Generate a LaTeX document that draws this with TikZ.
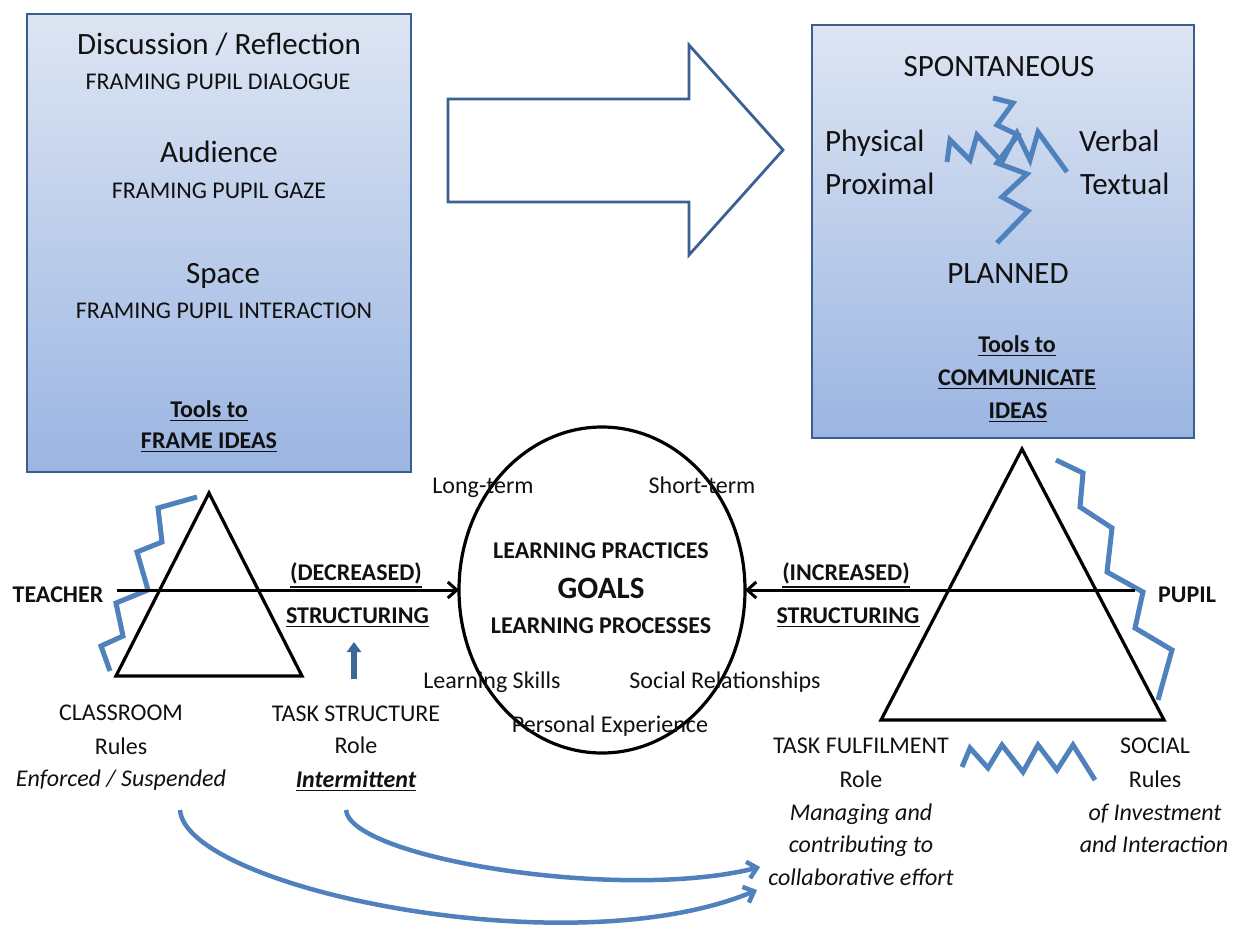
\documentclass[tikz,border=0pt]{standalone}
\usepackage{fontspec}
\setmainfont{Carlito}
\usetikzlibrary{arrows.meta,shapes.geometric}

\definecolor{zig}{HTML}{4F81BD}
\definecolor{panelline}{HTML}{3A5F8F}
\definecolor{paneltop}{HTML}{DDE5F3}
\definecolor{panelbot}{HTML}{9BB5E2}
\definecolor{bigarrow}{HTML}{3B6193}
\definecolor{uparrow}{HTML}{3E6797}
\definecolor{ink}{HTML}{111111}

% thick underline sitting just below the baseline
\newcommand\ulbox[1]{\vtop{\hbox{#1}\kern2.4pt\hrule height 1.9pt}}

\tikzset{
  txt/.style={font=\fontsize{24}{28}\selectfont, text=ink, anchor=base, inner sep=0pt, outer sep=0pt},
  txtb/.style={txt, font=\fontsize{24}{28}\selectfont\bfseries},
  txti/.style={txt, font=\fontsize{24}{28}\selectfont\itshape},
  txtbi/.style={txt, font=\fontsize{24}{28}\selectfont\bfseries\itshape},
  big/.style={txt, font=\fontsize{31}{36}\selectfont},
  bigb/.style={txt, font=\fontsize{31}{36}\selectfont\bfseries},
  panel/.style={draw=panelline, line width=2.8pt, top color=paneltop, bottom color=panelbot,
                inner sep=0pt, outer sep=0pt},
  zigline/.style={draw=zig, line width=5pt},
  tri/.style={draw=black, line width=3.2pt, line join=miter},
  conn/.style={draw=black, line width=3pt, -{Straight Barb[length=9pt,width=16pt]}},
  curvearrow/.style={draw=zig, line width=4.5pt, -{Straight Barb[length=9pt,width=17pt]}},
  upstyle/.style={draw=uparrow, line width=5.5pt, -{Triangle[length=10pt,width=14pt]}},
}

\begin{document}
\begin{tikzpicture}[x=1pt,y=-1pt]
\useasboundingbox (0,0) rectangle (1241,928);
\fill[white] (0,0) rectangle (1241,928);

% ---------- left panel: tools to frame ideas ----------
\node[panel, minimum width=384pt, minimum height=458pt] (framepanel) at (219,243) {};
\node[big] (discuss)  at (219,55)  {Discussion / Reflection};
\node[txt] (dialogue) at (218,90)  {FRAMING PUPIL DIALOGUE};
\node[big] (audience) at (219,163) {Audience};
\node[txt] (gaze)     at (219,198) {FRAMING PUPIL GAZE};
\node[big] (space)    at (223,283) {Space};
\node[txt] (interact) at (224,318) {FRAMING PUPIL INTERACTION};
\node[txtb] (toolsA)  at (209,417) {\ulbox{Tools to}};
\node[txtb] (frameid) at (209,448) {\ulbox{FRAME IDEAS}};

% ---------- block arrow between the panels ----------
\draw[draw=bigarrow, line width=2.8pt, fill=white, line join=miter]
  (448,99) -- (689,99) -- (689,45) -- (783,150) -- (689,255) -- (689,202) -- (448,202) -- cycle;

% ---------- right panel: tools to communicate ideas ----------
\node[panel, minimum width=382pt, minimum height=413pt] (commpanel) at (1003,231.5) {};
\node[big] (spont)    at (999,77)  {SPONTANEOUS};
\node[big, anchor=base west] (physical) at (825,152) {Physical};
\node[big, anchor=base west] (proximal) at (825,194) {Proximal};
\node[big, anchor=base west] (verbal)   at (1079,152) {Verbal};
\node[big, anchor=base west] (textual)  at (1080,194) {Textual};
\node[big] (planned)  at (1008,283) {PLANNED};
\node[txtb] (toolsB)  at (1017,352) {\ulbox{Tools to}};
\node[txtb] (commun)  at (1017,385) {\ulbox{COMMUNICATE}};
\node[txtb] (ideas)   at (1018,418) {\ulbox{IDEAS}};

\draw[zigline] (993,98) -- (1013,103) -- (997,125) -- (1018,135) -- (997,163)
  -- (1027,174) -- (1002,197) -- (1028,211) -- (997,243);
\draw[zigline] (947,162) -- (950,140) -- (970,160) -- (977,135) -- (1002,162)
  -- (1017,133) -- (1030,160) -- (1038,132) -- (1067,172);

% ---------- central goals ellipse ----------
\node[ellipse, draw=black, line width=3.2pt, minimum width=286pt, minimum height=326pt,
      inner sep=0pt, outer sep=0pt] (goals) at (602,590) {};
\node[txt] (longterm)  at (483,493) {Long-term};
\node[txt] (shortterm) at (702,493) {Short-term};
\node[txtb] (practices) at (601,558) {LEARNING PRACTICES};
\node[bigb] (goalstxt)  at (601,598) {GOALS};
\node[txtb] (processes) at (601,633) {LEARNING PROCESSES};
\node[txt] (skills)    at (492,688) {Learning Skills};
\node[txt] (social)    at (725,688) {Social Relationships};
\node[txt] (personal)  at (610,732) {Personal Experience};

% ---------- teacher side ----------
\draw[tri] (209,493) -- (116,676) -- (302,676) -- cycle;
\draw[zigline] (197,497) -- (158,508) -- (162,542) -- (137,552) -- (148,590)
  -- (116,603) -- (123,636) -- (101,646) -- (110,671);
\node[txtb] (teacher) at (58,602) {TEACHER};
\coordinate (tstart) at (117,590);
\draw[conn] (tstart) -- (goals.west);
\node[txtb] (decreased) at (356,580) {\ulbox{(DECREASED)}};
\node[txtb] (structL)   at (357.5,623) {\ulbox{STRUCTURING}};
\coordinate (upfoot) at (354,679);
\coordinate (uptip)  at (354,642);
\draw[upstyle] (upfoot) -- (uptip);

\node[txt]  (classroom) at (121,720) {CLASSROOM};
\node[txt]  (rulesL)    at (121,754) {Rules};
\node[txti] (enforced)  at (121,786) {Enforced / Suspended};
\node[txt]  (taskstr)   at (356,721) {TASK STRUCTURE};
\node[txt]  (roleL)     at (356,753) {Role};
\node[txtbi] (intermit) at (356,787) {\ulbox{Intermittent}};

% ---------- pupil side ----------
\draw[tri] (1022,449) -- (881,720) -- (1164,720) -- cycle;
\draw[zigline] (1056,460) -- (1083,473) -- (1080,507) -- (1112,528) -- (1107,572)
  -- (1143,592) -- (1135,628) -- (1172,650) -- (1158,700);
\node[txtb] (pupil) at (1187,602) {PUPIL};
\coordinate (pstart) at (1135,590);
\draw[conn] (pstart) -- (goals.east);
\node[txtb] (increased) at (846,580) {\ulbox{(INCREASED)}};
\node[txtb] (structR)   at (848,623) {\ulbox{STRUCTURING}};

\node[txt]  (taskful)  at (861,753) {TASK FULFILMENT};
\node[txt]  (roleR)    at (861,787) {Role};
\node[txti] (managing) at (861,820) {Managing and};
\node[txti] (contrib)  at (861,852) {contributing to};
\node[txti] (collab)   at (861,885) {collaborative effort};
\node[txt]  (socialR)  at (1155,753) {SOCIAL};
\node[txt]  (rulesR)   at (1155,787) {Rules};
\node[txti] (invest)   at (1155,820) {of Investment};
\node[txti] (interR)   at (1154,852) {and Interaction};

\draw[zigline] (962,767) -- (970,748) -- (988,768) -- (1002,745) -- (1023,772)
  -- (1038,745) -- (1057,770) -- (1073,745) -- (1095,780);

% ---------- curved links from the teacher's frames to the pupil's role ----------
\coordinate (fromrules) at (180,810);
\coordinate (fromrole)  at (346,810);
\coordinate (tocollabA) at (760,867);
\coordinate (tocollabB) at (757,890);
\draw[curvearrow] (fromrole) .. controls (350,858) and (620,902) .. (tocollabA);
\draw[curvearrow] (fromrules) .. controls (186,888) and (570,968) .. (tocollabB);
\end{tikzpicture}
\end{document}
